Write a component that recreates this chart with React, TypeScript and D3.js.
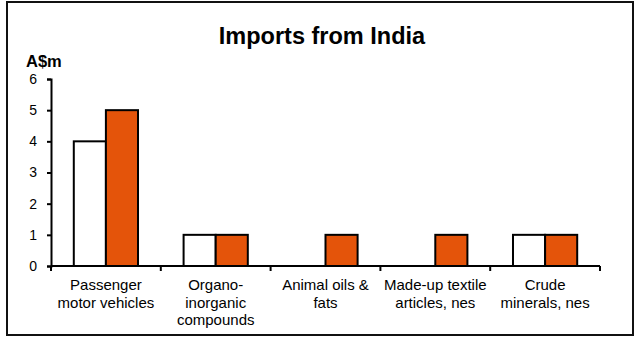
// D3.js — Imports from India (grouped bars)
import React, { useEffect, useRef } from "react";
import * as d3 from "d3";

const categories = [
  ["Passenger", "motor vehicles"],
  ["Organo-", "inorganic", "compounds"],
  ["Animal oils &", "fats"],
  ["Made-up textile", "articles, nes"],
  ["Crude", "minerals, nes"],
];
const seriesA = [4, 1, 0, 0, 1];
const seriesB = [5, 1, 1, 1, 1];
const yTicks = [0, 1, 2, 3, 4, 5, 6];

const App: React.FC = () => {
  const svgRef = useRef<SVGSVGElement>(null);

  useEffect(() => {
    if (!svgRef.current) return;
    document.body.style.margin = "0";

    const W = 637, H = 338;
    const left = 51, right = 600, top = 79, bottom = 266;
    const font = "Arial, 'Liberation Sans', sans-serif";

    const svg = d3.select(svgRef.current).attr("width", W).attr("height", H);
    svg.selectAll("*").remove();

    svg.append("rect").attr("width", W).attr("height", H).attr("fill", "#fff");
    svg.append("rect")
      .attr("x", 7).attr("y", 2).attr("width", 626).attr("height", 333)
      .attr("fill", "none").attr("stroke", "#111").attr("stroke-width", 2);

    svg.append("text")
      .attr("x", 322).attr("y", 44)
      .attr("text-anchor", "middle")
      .attr("font-family", font).attr("font-weight", "bold").attr("font-size", 23.5)
      .text("Imports from India");

    svg.append("text")
      .attr("x", 26).attr("y", 66.5)
      .attr("font-family", font).attr("font-weight", "bold").attr("font-size", 16.5)
      .text("A$m");

    const idx = categories.map((_, i) => String(i));
    const x = d3.scaleBand().domain(idx).range([left, right]).paddingInner(0).paddingOuter(0);
    const inner = d3.scaleBand().domain(["a", "b"]).range([0, x.bandwidth()]).paddingInner(0).paddingOuter(0.71);
    const y = d3.scaleLinear().domain([0, 6]).range([bottom, top]);

    // bars
    const groups = svg.selectAll("g.cat")
      .data(idx)
      .join("g")
      .attr("class", "cat")
      .attr("transform", d => `translate(${x(d)},0)`);

    groups.each(function (d) {
      const i = +d;
      const g = d3.select(this);
      const vals: [string, number, string][] = [
        ["a", seriesA[i], "#ffffff"],
        ["b", seriesB[i], "#e4540a"],
      ];
      vals.filter(v => v[1] > 0).forEach(([k, v, c]) => {
        g.append("rect")
          .attr("x", inner(k)!)
          .attr("y", y(v))
          .attr("width", inner.bandwidth())
          .attr("height", y(0) - y(v))
          .attr("fill", c)
          .attr("stroke", "#000")
          .attr("stroke-width", 2);
      });
    });

    // Y axis
    svg.append("g")
      .attr("transform", `translate(${left},0)`)
      .call(d3.axisLeft(y).tickValues(yTicks).tickSize(4).tickPadding(10).tickFormat(d3.format("d")))
      .call(g => g.select(".domain").attr("stroke", "#000").attr("stroke-width", 2))
      .call(g => g.selectAll(".tick line").attr("stroke", "#000").attr("stroke-width", 2))
      .call(g => g.selectAll(".tick text").attr("fill", "#000").attr("font-size", 14).attr("font-family", font));

    // X axis: line + boundary ticks
    const xa = svg.append("g");
    xa.append("line")
      .attr("x1", left).attr("x2", right).attr("y1", bottom).attr("y2", bottom)
      .attr("stroke", "#000").attr("stroke-width", 2);
    const bounds = [...idx.map(d => x(d)!), right];
    xa.selectAll("line.tk")
      .data(bounds)
      .join("line")
      .attr("class", "tk")
      .attr("x1", d => d).attr("x2", d => d)
      .attr("y1", bottom).attr("y2", bottom + 5)
      .attr("stroke", "#000").attr("stroke-width", 2);

    // category labels
    svg.selectAll("text.cl")
      .data(categories)
      .join("text")
      .attr("class", "cl")
      .attr("text-anchor", "middle")
      .attr("font-family", font).attr("font-size", 15).attr("fill", "#000")
      .attr("transform", (_, i) => `translate(${x(String(i))! + x.bandwidth() / 2},290)`)
      .each(function (lines) {
        d3.select(this).selectAll("tspan")
          .data(lines)
          .join("tspan")
          .attr("x", 0)
          .attr("y", (_, j) => j * 17.5)
          .text(t => t);
      });
  }, []);

  return <svg ref={svgRef} style={{ display: "block" }} />;
};

export default App;
